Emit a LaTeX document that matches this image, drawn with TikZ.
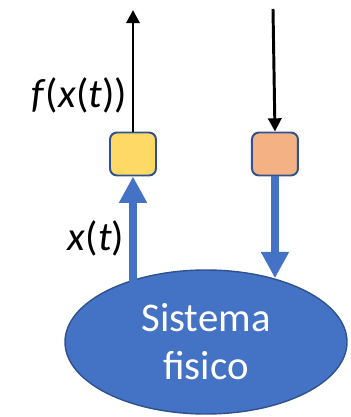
\documentclass[tikz,border=0pt]{standalone}
\usepackage{fontspec}
\setmainfont{Carlito}
\usetikzlibrary{positioning, arrows.meta, shapes.geometric}

\definecolor{sysblue}{HTML}{4472C4}
\definecolor{edgeblue}{HTML}{2F528F}
\definecolor{readyellow}{HTML}{FFD966}
\definecolor{actorange}{HTML}{F4B183}

\begin{document}
\begin{tikzpicture}[
      % blocchetti (sensore / attuatore)
      port/.style={rectangle, rounded corners=5pt, draw=edgeblue, line width=1.4pt,
                   minimum width=1.15cm, minimum height=1.075cm},
      % segnali esterni
      signal/.style={draw, line width=2.1pt, -{Triangle[width=0.33cm, length=0.33cm]}},
      % flussi verso/dal sistema
      flow/.style={draw=sysblue, line width=5.7pt, -{Triangle[width=0.66cm, length=0.66cm]}},
      font=\fontsize{29}{34}\selectfont
    ]
    \useasboundingbox (0,0) rectangle (8.75,10.425);

    % --- sistema fisico ---
    \node [ellipse, draw=edgeblue, line width=1pt, fill=sysblue, text=white,
           minimum width=7.05cm, minimum height=3.6cm, align=center] (sys) at (5.15,1.875)
          {Sistema\\fisico};

    % --- sensore e attuatore ---
    \node [port, fill=readyellow] (sensor) at (3.325,6.575) {};
    \node [port, fill=actorange, right=2.35cm of sensor] (actuator) {};

    \coordinate (out) at (3.325,10.175);
    \coordinate (in) at (6.825,10.2);

    % --- frecce ---
    \draw [flow, shorten <=-1.5pt] (sensor.south |- sys.140) -- node[pos=0.4, left] {\textit{x}(\textit{t})} (sensor.south);
    \draw [flow] (actuator.south) -- (actuator.south |- sys.43);
    \draw [signal] (sensor.north) -- node[pos=0.3, left] {\textit{f}(\textit{x}(\textit{t}))} (out);
    \draw [signal] (in) -- (actuator.north);

\end{tikzpicture}
\end{document}
